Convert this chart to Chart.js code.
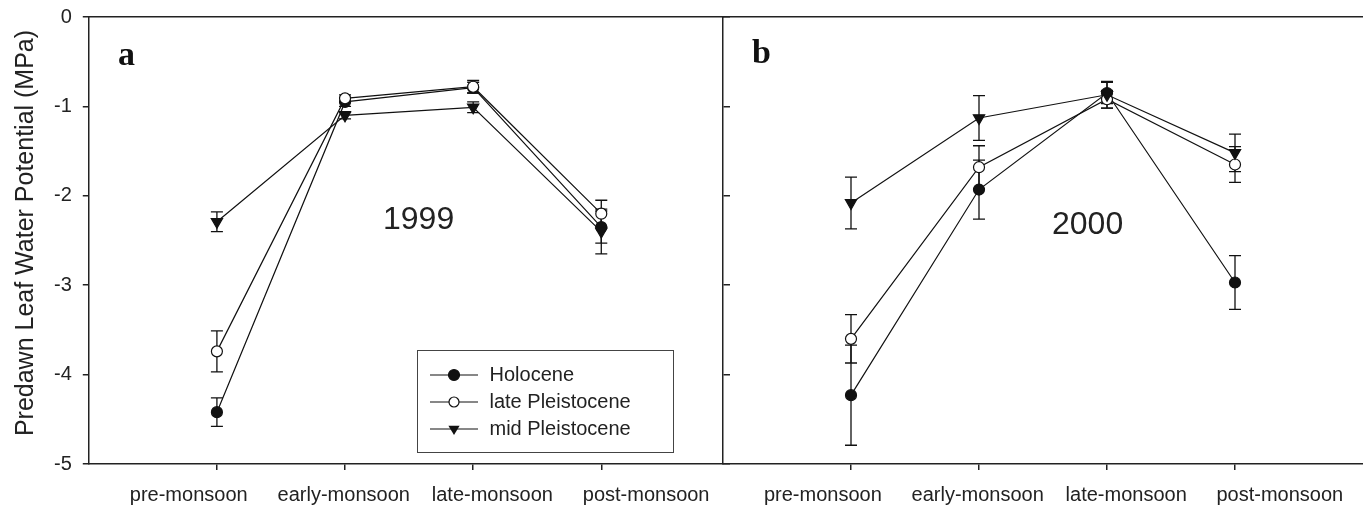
<!DOCTYPE html>
<html>
<head>
<meta charset="utf-8">
<script src="https://cdn.jsdelivr.net/npm/chart.js@4.4.1/dist/chart.umd.min.js"></script>
<style>
    body { margin: 0; background: #fff; width: 1363px; height: 508px; overflow: hidden; position: relative; font-family: "Liberation Sans", Arial, sans-serif; color: #222; }
    canvas { display: block; }
    .panel { position: absolute; top: 0; }
    .note { position: absolute; line-height: 1; white-space: nowrap; }
    .year { font-size: 32px; }
    .tag { font-family: "Liberation Serif", "Times New Roman", serif; font-weight: bold; font-size: 34px; color: #111; }
    #ytitle { position: absolute; left: -206px; top: 217.5px; width: 460px; height: 30px; line-height: 30px; font-size: 25px; text-align: center; white-space: nowrap; transform: rotate(-90deg); transform-origin: 50% 50%; }
    #legend { position: absolute; left: 417px; top: 350px; width: 257px; height: 103px; border: 1.5px solid #444; padding-top: 10px; box-sizing: border-box; }
    .row { display: flex; align-items: center; height: 27px; font-size: 20px; padding-left: 11.5px; }
    .row svg { margin-right: 12px; }
</style>
</head>
<body>
<div class="panel" style="left:0"><canvas id="chartA" width="730" height="508"></canvas></div>
<div class="panel" style="left:723px"><canvas id="chartB" width="640" height="508"></canvas></div>

<div id="ytitle">Predawn Leaf Water Potential (MPa)</div>
<div class="note tag" style="left:118px; top:37px">a</div>
<div class="note tag" style="left:752px; top:35px">b</div>
<div class="note year" style="left:383px; top:202px">1999</div>
<div class="note year" style="left:1052px; top:207px">2000</div>
<div id="legend"></div>

<script>
// categories and series
const seasons = ['pre-monsoon', 'early-monsoon', 'late-monsoon', 'post-monsoon'];
const series = ['Holocene', 'late Pleistocene', 'mid Pleistocene'];

// 1999 (panel a), MPa, with +/- error
const holocene1999 = [-4.42, -0.95, -0.79, -2.35];
const holoceneErr1999 = [0.16, 0.05, 0.06, 0.18];
const latePleist1999 = [-3.74, -0.91, -0.78, -2.20];
const latePleistErr1999 = [0.23, 0.04, 0.07, 0.15];
const midPleist1999 = [-2.29, -1.10, -1.01, -2.40];
const midPleistErr1999 = [0.11, 0.04, 0.06, 0.25];

// 2000 (panel b)
const holocene2000 = [-4.23, -1.93, -0.85, -2.97];
const holoceneErr2000 = [0.56, 0.33, 0.12, 0.30];
const latePleist2000 = [-3.60, -1.68, -0.92, -1.65];
const latePleistErr2000 = [0.27, 0.24, 0.10, 0.20];
const midPleist2000 = [-2.08, -1.13, -0.87, -1.52];
const midPleistErr2000 = [0.29, 0.25, 0.15, 0.21];

// where the season names sit on the x scale (the figure sets them off the ticks)
const labelSlots = [0.78, 1.99, 3.15, 4.35];

const axisColor = '#222';
const lineColor = '#111';

Chart.defaults.font.family = '"Liberation Sans", Arial, sans-serif';
Chart.defaults.color = axisColor;

// markers per series
const markerStyles = [
    { pointStyle: 'circle', pointRadius: 5.5, pointRotation: 0, pointBackgroundColor: lineColor, order: 2 },
    { pointStyle: 'circle', pointRadius: 5.5, pointRotation: 0, pointBackgroundColor: '#fff', order: 1 },
    { pointStyle: 'triangle', pointRadius: 6.5, pointRotation: 180, pointBackgroundColor: lineColor, order: 0 }
];

function buildDatasets(values, errors) {
    return values.map((vals, s) => Object.assign({
        label: series[s],
        data: vals.map((v, i) => ({ x: i + 1, y: v })),
        errors: errors[s],
        borderColor: lineColor,
        borderWidth: 1.2,
        pointBorderColor: lineColor,
        pointBorderWidth: 1.2,
        pointHoverRadius: 6,
        fill: false,
        tension: 0
    }, markerStyles[s]));
}

// vertical error bars with caps, drawn under the markers
const errorBars = {
    id: 'errorBars',
    beforeDatasetsDraw(chart) {
        const { ctx, scales: { x, y } } = chart;
        ctx.save();
        ctx.strokeStyle = lineColor;
        ctx.lineWidth = 1.3;
        chart.data.datasets.forEach(ds => {
            ds.data.forEach((pt, i) => {
                const px = x.getPixelForValue(pt.x);
                const top = y.getPixelForValue(pt.y + ds.errors[i]);
                const bot = y.getPixelForValue(pt.y - ds.errors[i]);
                ctx.beginPath();
                ctx.moveTo(px, top); ctx.lineTo(px, bot);
                ctx.moveTo(px - 6, top); ctx.lineTo(px + 6, top);
                ctx.moveTo(px - 6, bot); ctx.lineTo(px + 6, bot);
                ctx.stroke();
            });
        });
        ctx.restore();
    }
};

const tickAt = vals => axis => { axis.ticks = vals.map(v => ({ value: v })); };

function buildScales(xMax, leftAxis) {
    const scales = {
        x: {
            type: 'linear', position: 'bottom', min: 0, max: xMax,
            afterBuildTicks: tickAt(seasons.map((_, i) => i + 1)),
            ticks: { display: false },
            grid: { drawOnChartArea: false, tickLength: 6, color: axisColor, lineWidth: 1.5 },
            border: { color: axisColor, width: 1.5 }
        },
        xl: {
            type: 'linear', position: 'bottom', min: 0, max: xMax,
            afterBuildTicks: tickAt(labelSlots),
            afterFit: axis => { axis.height = 37; },
            ticks: { padding: 13, maxRotation: 0, autoSkip: false, font: { size: 20 }, color: axisColor,
                     callback: (v, i) => seasons[i] },
            grid: { display: false, drawTicks: false },
            border: { display: false }
        },
        xt: {
            type: 'linear', position: 'top', min: 0, max: xMax,
            ticks: { display: false },
            grid: { display: false, drawTicks: false },
            border: { color: axisColor, width: 1.5 }
        },
        y: {
            type: 'linear', position: 'left', min: -5, max: 0, display: leftAxis,
            afterFit: axis => { axis.paddingTop = 0; axis.paddingBottom = 0; },
            ticks: { stepSize: 1, padding: 11, font: { size: 20 }, color: axisColor },
            grid: { drawOnChartArea: false, tickLength: 6, color: axisColor, lineWidth: 1.5 },
            border: { color: axisColor, width: 1.5 }
        }
    };
    if (leftAxis) {
        // panel a's right edge carries the ticks that point into panel b
        scales.yr = {
            type: 'linear', position: 'right', min: -5, max: 0,
            ticks: { stepSize: 1, display: false },
            grid: { drawOnChartArea: false, tickLength: 7, color: axisColor, lineWidth: 1.5 },
            border: { color: axisColor, width: 1.5 }
        };
    }
    return scales;
}

function makeChart(id, datasets, xMax, leftAxis, padLeft) {
    return new Chart(document.getElementById(id), {
        type: 'line',
        data: { datasets },
        options: {
            responsive: false,
            animation: false,
            layout: { autoPadding: false, padding: { left: padLeft, top: 17, right: 0, bottom: 1 } },
            plugins: { legend: { display: false }, tooltip: { enabled: false } },
            scales: buildScales(xMax, leftAxis)
        },
        plugins: [errorBars]
    });
}

makeChart('chartA',
    buildDatasets([holocene1999, latePleist1999, midPleist1999],
                  [holoceneErr1999, latePleistErr1999, midPleistErr1999]),
    4.95, true, 43);

makeChart('chartB',
    buildDatasets([holocene2000, latePleist2000, midPleist2000],
                  [holoceneErr2000, latePleistErr2000, midPleistErr2000]),
    5, false, 0);

// legend box
const legendMarks = [
    '<circle cx="24" cy="7" r="5.5" fill="#111" stroke="#111" stroke-width="1.2"/>',
    '<circle cx="24" cy="7" r="5" fill="#fff" stroke="#111" stroke-width="1.2"/>',
    '<polygon points="18.4,3.8 29.6,3.8 24,13" fill="#111"/>'
];
document.getElementById('legend').innerHTML = series.map((name, i) =>
    `<div class="row"><svg width="48" height="14"><line x1="0" y1="7" x2="48" y2="7" stroke="#111" stroke-width="1.2"/>${legendMarks[i]}</svg>${name}</div>`
).join('');
</script>
</body>
</html>
